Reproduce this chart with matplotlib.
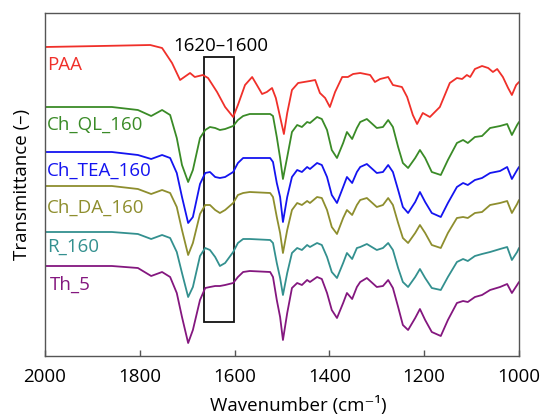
"""FTIR spectra (2000-1000 cm-1) of PAA and the cured films, stacked."""

from __future__ import annotations

import matplotlib

matplotlib.use("Agg")
import matplotlib.pyplot as plt
from matplotlib.patches import Rectangle

# --- data (transmittance, arbitrary offset units) ---------------------------
paa_wn = [2000, 1884, 1778, 1753, 1732, 1715, 1694, 1684, 1667, 1656,
          1637, 1620, 1603, 1593, 1578, 1563, 1553, 1542, 1532, 1521,
          1513, 1504, 1496, 1489, 1479, 1466, 1441, 1430, 1420, 1409,
          1399, 1388, 1373, 1361, 1350, 1335, 1314, 1304, 1293, 1276,
          1266, 1247, 1236, 1224, 1215, 1203, 1188, 1167, 1146, 1131,
          1120, 1110, 1103, 1093, 1078, 1065, 1055, 1046, 1034, 1023,
          1015, 1006, 1000]
paa_t = [309, 310, 311, 308, 293, 276, 283, 279, 281, 278,
         264, 249, 239, 251, 271, 279, 271, 262, 264, 268,
         258, 239, 222, 243, 266, 273, 275, 276, 263, 258,
         249, 264, 279, 279, 282, 283, 281, 274, 277, 279,
         271, 269, 259, 241, 232, 243, 239, 249, 273, 278,
         277, 281, 279, 287, 290, 288, 284, 287, 279, 268,
         261, 271, 274]

wn = [2000, 1859, 1804, 1776, 1753, 1736, 1722, 1711, 1698, 1688,
      1673, 1662, 1652, 1641, 1631, 1620, 1603, 1593, 1582, 1568,
      1525, 1519, 1511, 1504, 1498, 1489, 1479, 1468, 1458, 1447,
      1441, 1426, 1416, 1405, 1395, 1384, 1371, 1363, 1352, 1342,
      1335, 1321, 1300, 1287, 1276, 1266, 1255, 1245, 1234, 1219,
      1209, 1198, 1184, 1165, 1150, 1131, 1118, 1108, 1093, 1078,
      1061, 1040, 1025, 1015, 1004, 1000]
ch_ql_t = [249, 249, 246, 240, 246, 241, 218, 191, 174, 186,
           218, 226, 229, 228, 226, 227, 230, 236, 240, 242,
           242, 240, 219, 198, 177, 199, 224, 231, 229, 234,
           233, 239, 237, 226, 206, 198, 213, 224, 217, 228,
           234, 237, 228, 229, 236, 229, 209, 193, 188, 198,
           206, 198, 184, 181, 196, 213, 216, 213, 219, 220,
           228, 230, 232, 221, 231, 234]
ch_tea_t = [204, 204, 201, 197, 201, 198, 183, 159, 133, 139,
            172, 183, 184, 179, 178, 179, 184, 193, 198, 198,
            198, 194, 173, 159, 134, 159, 179, 186, 184, 189,
            187, 193, 191, 179, 161, 153, 169, 179, 173, 184,
            189, 192, 183, 184, 191, 184, 166, 149, 143, 154,
            164, 154, 143, 139, 153, 169, 173, 171, 176, 178,
            183, 185, 189, 177, 186, 189]
ch_da_t = [170, 170, 167, 162, 166, 163, 149, 126, 101, 113,
           142, 151, 151, 146, 143, 146, 153, 161, 163, 164,
           163, 159, 139, 123, 103, 126, 146, 153, 151, 155,
           153, 159, 158, 146, 129, 122, 138, 146, 141, 151,
           156, 158, 149, 151, 158, 151, 133, 118, 113, 123,
           131, 123, 111, 108, 123, 138, 139, 138, 143, 144,
           151, 153, 155, 143, 152, 156]
r_t = [124, 124, 122, 117, 121, 118, 104, 83, 59, 69,
       100, 108, 106, 99, 90, 93, 104, 113, 117, 117,
       116, 113, 93, 78, 61, 83, 103, 108, 106, 111,
       109, 113, 111, 99, 84, 78, 93, 103, 97, 108,
       109, 112, 106, 108, 113, 106, 88, 74, 69, 79,
       87, 78, 68, 66, 79, 94, 97, 95, 100, 102,
       104, 107, 109, 96, 104, 108]
th_t = [90, 90, 88, 80, 84, 79, 63, 39, 13, 26,
        56, 68, 69, 70, 70, 71, 73, 79, 84, 85,
        84, 79, 56, 39, 16, 43, 68, 73, 71, 76,
        74, 79, 77, 63, 46, 38, 53, 63, 57, 69,
        74, 78, 69, 70, 76, 68, 49, 31, 26, 38,
        47, 36, 24, 20, 36, 53, 55, 54, 59, 61,
        66, 69, 72, 63, 71, 74]

labels = ["PAA", "Ch_QL_160", "Ch_TEA_160", "Ch_DA_160", "R_160", "Th_5"]
label_y = [286, 226, 180, 143, 104, 66]
band = (1665, 1601)
band_y = (34, 299)
band_label = "1620–1600"
xticks = [2000, 1800, 1600, 1400, 1200, 1000]

COLORS = ["#f0302a", "#3a8b27", "#1414f0", "#8e8e2e", "#33908f", "#84177f"]
FONT = ["Open Sans", "DejaVu Sans"]


def plot_ftir(out_path: str = "out.png") -> plt.Figure:
    plt.rcParams["font.family"] = FONT
    plt.rcParams["font.size"] = 13.5

    fig = plt.figure(figsize=(5.43, 4.17), dpi=100)
    ax = fig.add_axes([45 / 543, 61 / 417, 474 / 543, 343 / 417])

    series = [(paa_wn, paa_t), (wn, ch_ql_t), (wn, ch_tea_t),
              (wn, ch_da_t), (wn, r_t), (wn, th_t)]
    for (x, y), c in zip(series, COLORS):
        ax.plot(x, y, color=c, lw=1.3, solid_joinstyle="round",
                solid_capstyle="round")

    for lab, ly, c in zip(labels, label_y, COLORS):
        dx = 1989 if lab == "Th_5" else 1996
        ax.text(dx, ly, lab, color=c, ha="left", va="baseline")

    ax.add_patch(Rectangle((band[1], band_y[0]), band[0] - band[1],
                           band_y[1] - band_y[0], fill=False,
                           edgecolor="#111111", lw=1.3))
    ax.text(1629, 305, band_label, ha="center", va="baseline", color="black")

    ax.set_xlim(2000, 1000)
    ax.set_ylim(0, 343)
    ax.set_xticks(xticks)
    ax.set_yticks([])
    ax.tick_params(axis="x", direction="in", length=4, width=1,
                   color="#555555", pad=9)
    for sp in ax.spines.values():
        sp.set_color("#555555")
        sp.set_linewidth(1.0)

    fig.text(298 / 543, 6 / 417, "Wavenumber (cm⁻¹)", ha="center", va="baseline")
    fig.text(22 / 543, 1 - 184 / 417, "Transmittance (–)", rotation=90,
             ha="center", va="center")

    fig.savefig(out_path, dpi=100)
    return fig


if __name__ == "__main__":
    plot_ftir()
